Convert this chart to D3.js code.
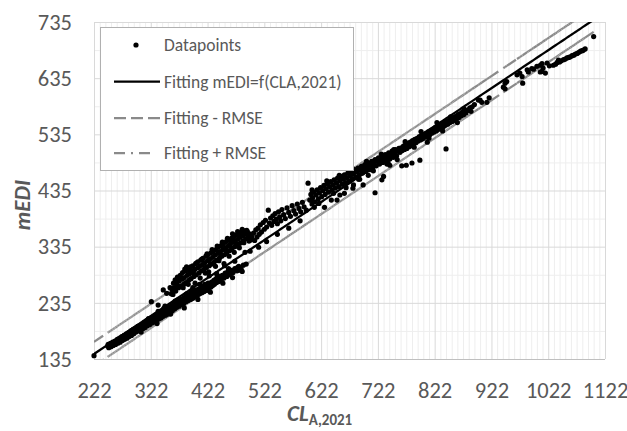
<!DOCTYPE html>
<html>
<head>
<meta charset="utf-8">
<script src="https://cdn.jsdelivr.net/npm/d3@7"></script>
<style>
  body { margin: 0; background: #fff; }
  svg { display: block; }
  text { font-family: Carlito, Calibri, Lato, sans-serif; }
</style>
</head>
<body>
<div id="chart"></div>
<script>
'use strict';

// ---- data ----
var xTicks = [222, 322, 422, 522, 622, 722, 822, 922, 1022, 1122];
var yTicks = [135, 235, 335, 435, 535, 635, 735];

// linear fit mEDI = a*CL + b, and its RMSE band
var fitSlope = 0.676;
var fitIntercept = -6.1;
var rmse = 21.5;

var legendLabels = ['Datapoints', 'Fitting mEDI=f(CLA,2021)', 'Fitting - RMSE', 'Fitting + RMSE'];

// [CL_A,2021 , mEDI]
var datapoints = [
  // start of the lower strip
  [222,141],[246,158],[247,161],[248,155],[250,159],[251,163],[252,157],[254,161],[255,165],[256,159],
  [258,163],[259,167],[260,161],[262,166],[263,170],[264,163],[266,168],[267,172],[268,165],[270,170],
  [271,175],[272,168],[274,172],[275,177],[276,170],[278,175],[279,180],[280,172],[282,178],[283,182],
  [284,175],[286,180],[287,185],[288,177],[290,183],[291,188],[292,180],[294,186],[295,190],[296,183],
  [298,188],[299,193],[300,185],
  // lower band
  [302,190],[303,194],[304,186],[306,192],[307,197],[308,189],[310,196],[311,200],[312,191],[314,198],
  [315,203],[316,194],[318,201],[319,205],[320,196],[322,203],[323,208],[324,199],[326,206],[327,210],
  [328,201],[330,208],[331,213],[332,203],[334,211],[335,215],[336,206],[338,213],[339,218],[340,208],
  [342,216],[343,220],[344,211],[346,218],[347,222],[348,213],[350,221],[351,225],[352,215],[354,223],
  [355,228],[356,218],[358,226],[359,230],[360,221],[362,229],[363,233],[364,224],[366,231],[367,236],
  [368,227],[370,234],[371,238],[372,229],[374,236],[375,241],[376,232],[378,239],[379,243],[380,234],
  [382,242],[383,246],[384,237],[386,244],[387,248],[388,239],[390,246],[391,250],[392,241],[394,249],
  [395,253],[396,243],[398,251],[399,255],[400,246],[402,253],[403,258],[404,248],[406,256],[407,260],
  [408,251],[410,258],[411,263],[412,253],[414,261],[415,265],[416,255],[418,263],[419,268],[420,257],
  [422,265],[423,270],[424,259],[426,268],[428,263],[429,272],[431,266],[433,275],[434,268],[436,277],
  [438,271],[440,279],[442,273],[444,282],[446,276],[448,284],[451,279],[453,288],[456,282],[458,291],
  [461,285],[462,288],[464,293],[467,289],[470,296],[474,292],[477,300],[479,293],[481,296],[485,302],
  [490,304],
  [305,183],[318,207],[333,198],[345,225],[357,215],[369,240],[381,226],[393,254],[405,241],[417,268],
  [427,254],[439,282],[449,270],[459,296],[466,280],[475,298],[483,291],
  // between the two bands
  [335,220],[347,229],[365,238],[385,251],[396,262],[408,268],[425,283],[438,287],[452,301],[470,309],
  [488,325],[497,327],
  // upper band
  [323,237],[335,231],[344,258],[350,252],[356,262],[358,251],[385,299],
  [360,258],[362,270],[363,262],[365,276],[366,256],[368,268],[369,281],[371,262],[372,274],[374,284],
  [375,265],[377,277],[378,289],[380,268],[381,280],[383,292],[384,271],[386,284],[387,295],[389,275],
  [390,287],[392,299],[393,278],[395,291],[396,301],[398,282],[399,294],[401,305],[402,285],[404,297],
  [405,308],[407,288],[408,300],[410,311],[411,292],[413,303],[414,314],[416,295],[417,306],[419,318],
  [420,298],[422,310],[423,321],[425,301],[426,313],[428,324],[429,304],[431,316],[432,327],[434,308],
  [435,320],[437,330],[438,311],[440,323],[441,334],[443,315],[444,326],[446,337],[447,318],[449,330],
  [450,340],[452,321],[453,333],[455,344],[456,325],[458,336],[459,347],[461,328],[462,339],[464,350],
  [465,332],[467,343],[468,353],[470,335],[471,346],[473,356],[474,338],[476,349],[477,359],[479,341],
  [480,352],[482,361],[484,345],[485,355],[487,363],[489,349],[490,358],[492,362],[494,352],[496,358],
  [498,347],[500,352],
  [361,250],[367,262],[373,280],[379,262],[382,295],[388,268],[391,293],[397,288],[400,270],[403,306],
  [409,279],[412,313],[418,288],[421,322],[424,290],[427,305],[430,330],[436,300],[439,336],[442,310],
  [445,322],[448,343],[451,305],[454,330],[457,350],[460,318],[463,345],[466,358],[469,325],[472,341],
  [475,362],[478,333],[483,366],[486,342],[491,364],[495,345],
  // 500 - 610
  [503,359],[505,346],[507,365],[509,352],[511,368],[513,357],[515,374],[517,361],[520,378],[522,366],
  [524,382],[526,370],[529,400],[531,377],[533,386],[535,373],[537,390],[539,380],[541,394],[543,384],
  [545,376],[547,397],[549,388],[551,381],[553,401],[556,392],[559,385],[562,404],[565,396],[568,389],
  [571,408],[574,399],[577,393],[580,411],[583,403],[586,397],[589,414],[592,406],[596,400],[599,448],
  [602,418],[606,411],[610,405],
  [512,334],[526,344],[545,357],[565,368],[585,381],
  // 600 - 760 main band
  [604,428],[604,418],[607,422],[609,432],[611,415],[613,427],[615,436],[617,420],[619,431],[621,440],
  [623,424],[625,435],[627,444],[629,428],[631,438],[633,447],[635,432],[637,442],[639,451],[641,436],
  [643,445],[645,454],[647,439],[649,448],[651,457],[653,442],[655,452],[657,460],[659,446],[661,455],
  [663,463],[665,449],[667,458],[669,466],[671,452],[673,461],[675,469],[677,456],[679,465],[681,472],
  [683,459],[685,468],[687,475],[689,463],[691,471],[693,478],[695,466],[697,474],[699,481],[701,469],
  [703,477],[705,484],[707,472],[709,480],[711,487],[713,476],[715,483],[717,490],[719,479],[721,487],
  [723,493],[725,482],[727,490],[729,496],[731,485],[733,493],[735,499],[737,488],[739,496],[741,502],
  [743,491],[745,499],[747,505],[749,494],[751,502],[753,508],[755,497],[757,505],[759,510],
  [606,436],[618,412],[632,452],[644,430],[654,462],[666,440],[676,476],[690,455],[702,487],[714,470],
  [728,500],[738,482],[750,508],[756,490],
  [628,405],[640,418],[650,418],[655,427],[663,430],[678,439],[679,445],[688,455],[696,445],[705,462],
  // 760 - 890 band
  [761,503],[763,511],[765,506],[767,514],[769,508],[771,516],[773,510],[775,519],[777,513],[779,521],
  [781,515],[783,524],[785,518],[787,526],[789,520],[791,528],[793,523],[795,531],[797,525],[799,533],
  [801,527],[803,535],[805,530],[807,537],[809,532],[811,540],[813,534],[815,542],[817,537],[819,544],
  [821,539],[823,547],[825,541],[827,549],[829,544],[831,551],[833,546],[835,553],[837,548],[839,556],
  [841,551],[843,558],[845,553],[847,560],[849,556],[851,562],[853,558],[855,565],[857,560],[859,567],
  [861,563],[863,570],[865,565],[867,572],[869,568],[871,575],[873,570],[875,577],[877,573],[880,578],
  [884,582],[888,584],[892,588],
  [770,522],[786,512],[798,540],[812,528],[826,556],[836,541],[850,566],[862,556],[874,580],[886,576],
  // scattered below the band
  [717,431],[729,454],[732,460],[740,484],[743,480],[764,479],[772,480],[782,484],[796,489],[809,521],
  [842,509],
  // upper end
  [881,578],[899,596],[902,596],[905,592],[914,592],[918,600],[943,619],[946,626],[946,616],[949,629],
  [967,641],[972,644],[976,638],[977,626],[985,650],[987,646],[993,652],[996,651],[1002,656],[1008,658],
  [1008,646],[1011,661],[1011,647],[1013,653],[1017,644],[1020,662],[1024,657],[1031,658],[1035,660],
  [1038,663],[1040,667],[1042,664],[1045,666],[1049,668],[1052,669],[1055,671],[1058,672],[1061,673],
  [1064,675],[1067,676],[1070,678],[1073,679],[1076,681],[1079,683],[1082,684],[1084,685],[1087,687],
  [1102,709]
];

// ---- layout ----
var W = 627, H = 431;
var plot = { left: 94, right: 605, top: 22, bottom: 359 };

var x = d3.scaleLinear().domain([222, 1122]).range([plot.left, plot.right]);
var y = d3.scaleLinear().domain([135, 735]).range([plot.bottom, plot.top]);

var svg = d3.select('#chart').append('svg')
  .attr('width', W).attr('height', H);

svg.append('defs').append('clipPath').attr('id', 'plotclip')
  .append('rect')
  .attr('x', plot.left).attr('y', plot.top)
  .attr('width', plot.right - plot.left).attr('height', plot.bottom - plot.top);

// gridlines
var minorX = d3.range(222, 1123, 10).filter(function(v) { return (v - 222) % 100 !== 0; });
var minorY = d3.range(185, 735, 100);

function grid(axis, pos, cls, color) {
  var g = svg.append('g').attr('class', cls).attr('transform', pos).call(axis);
  g.select('.domain').remove();
  g.selectAll('line').attr('stroke', color).attr('stroke-width', 1);
  g.selectAll('text').remove();
  return g;
}

grid(d3.axisBottom(x).tickValues(minorX).tickSize(-(plot.bottom - plot.top)),
     'translate(0,' + plot.bottom + ')', 'minor-x', '#eeeeee');
grid(d3.axisLeft(y).tickValues(minorY).tickSize(-(plot.right - plot.left)),
     'translate(' + plot.left + ',0)', 'minor-y', '#eeeeee');
grid(d3.axisBottom(x).tickValues(xTicks).tickSize(-(plot.bottom - plot.top)),
     'translate(0,' + plot.bottom + ')', 'major-x', '#d9d9d9');
grid(d3.axisLeft(y).tickValues(yTicks).tickSize(-(plot.right - plot.left)),
     'translate(' + plot.left + ',0)', 'major-y', '#d9d9d9');

svg.append('line')
  .attr('x1', plot.left).attr('x2', plot.right)
  .attr('y1', plot.bottom + 0.5).attr('y2', plot.bottom + 0.5)
  .attr('stroke', '#bfbfbf').attr('stroke-width', 1.2);

// tick labels
var xAxis = svg.append('g')
  .attr('transform', 'translate(0,' + plot.bottom + ')')
  .call(d3.axisBottom(x).tickValues(xTicks).tickSize(0).tickPadding(23).tickFormat(d3.format('d')));
var yAxis = svg.append('g')
  .attr('transform', 'translate(' + plot.left + ',0)')
  .call(d3.axisLeft(y).tickValues(yTicks).tickSize(0).tickPadding(22).tickFormat(d3.format('d')));
[xAxis, yAxis].forEach(function(a) {
  a.select('.domain').remove();
  a.selectAll('text')
    .attr('fill', '#595959')
    .style('font-size', '22.5px')
    .style('font-family', 'Carlito, Calibri, Lato, sans-serif');
});

// fitted lines, vertices at each CL value (Excel restarts dashes at every vertex)
var xs = Array.from(new Set(datapoints.map(function(d) { return d[0]; }))).sort(d3.ascending);
function fitted(offset) {
  return xs.map(function(v) { return [v, fitSlope * v + fitIntercept + offset]; });
}

var lines = svg.append('g').attr('clip-path', 'url(#plotclip)');

function dashedSeries(offset, dash) {
  lines.append('g').selectAll('line')
    .data(d3.pairs(fitted(offset)))
    .join('line')
    .attr('x1', function(d) { return x(d[0][0]); })
    .attr('y1', function(d) { return y(d[0][1]); })
    .attr('x2', function(d) { return x(d[1][0]); })
    .attr('y2', function(d) { return y(d[1][1]); })
    .attr('stroke', '#8a8a8a')
    .attr('stroke-width', 2.25)
    .attr('stroke-dasharray', dash);
}

dashedSeries(-rmse, '12,5');
dashedSeries(rmse, '11,6,2,6');

lines.append('path')
  .datum(fitted(0))
  .attr('fill', 'none')
  .attr('stroke', '#000')
  .attr('stroke-width', 2.25)
  .attr('d', d3.line().x(function(d) { return x(d[0]); }).y(function(d) { return y(d[1]); }));

// datapoints
svg.append('g').selectAll('circle')
  .data(datapoints)
  .join('circle')
  .attr('cx', function(d) { return x(d[0]); })
  .attr('cy', function(d) { return y(d[1]); })
  .attr('r', 2.6)
  .attr('fill', '#000');

// axis titles
svg.append('text')
  .attr('transform', 'translate(30,205) rotate(-90)')
  .attr('text-anchor', 'middle')
  .attr('fill', '#595959')
  .style('font-size', '23px')
  .style('font-weight', 'bold')
  .style('font-style', 'italic')
  .text('mEDI');

var xt = svg.append('text')
  .attr('x', 287).attr('y', 421)
  .attr('fill', '#595959')
  .style('font-weight', 'bold');
xt.append('tspan').style('font-size', '23px').style('font-style', 'italic').text('CL');
xt.append('tspan').attr('dy', 4).style('font-size', '15px').text('A,2021');

// legend
var lg = svg.append('g');
lg.append('rect')
  .attr('x', 100.5).attr('y', 27.5)
  .attr('width', 253).attr('height', 143)
  .attr('fill', '#fff')
  .attr('stroke', '#b0b0b0');

var rowY = [45, 81.5, 118, 153];
lg.selectAll('text.lab')
  .data(legendLabels)
  .join('text')
  .attr('class', 'lab')
  .attr('x', 164)
  .attr('y', function(d, i) { return rowY[i]; })
  .attr('dy', '0.35em')
  .attr('fill', '#595959')
  .style('font-size', '17.5px')
  .text(function(d) { return d; });

lg.append('circle').attr('cx', 136).attr('cy', rowY[0]).attr('r', 2.6).attr('fill', '#000');
lg.append('line').attr('x1', 114).attr('x2', 160).attr('y1', rowY[1]).attr('y2', rowY[1])
  .attr('stroke', '#000').attr('stroke-width', 2.25);
lg.append('line').attr('x1', 114).attr('x2', 160).attr('y1', rowY[2]).attr('y2', rowY[2])
  .attr('stroke', '#8a8a8a').attr('stroke-width', 2.25).attr('stroke-dasharray', '12,5');
lg.append('line').attr('x1', 114).attr('x2', 155).attr('y1', rowY[3]).attr('y2', rowY[3])
  .attr('stroke', '#8a8a8a').attr('stroke-width', 2.25).attr('stroke-dasharray', '11,6,2,6');
</script>
</body>
</html>
